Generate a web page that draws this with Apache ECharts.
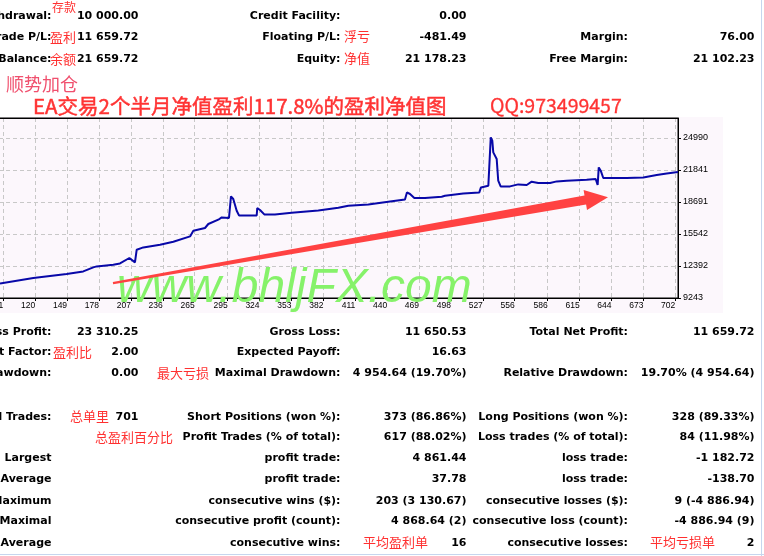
<!DOCTYPE html>
<html><head><meta charset="utf-8">
<script src="https://cdn.jsdelivr.net/npm/echarts@6.0.0/dist/echarts.min.js"></script>
<style>
html,body{margin:0;padding:0;background:#fff;}
#wrap{position:relative;width:764px;height:556px;overflow:hidden;background:#fff;}
#pink{position:absolute;left:0;top:117px;width:723px;height:196px;background:#fcf7fc;}
#c{position:absolute;left:0;top:0;width:764px;height:556px;}
</style>
</head><body>
<div id="wrap"><div id="pink"></div><div id="c"></div></div>
<script>
// ---- data ----
const tradeNo = [88.0,118.3,148.6,163.7,172.8,175.9,191.0,197.1,205.6,210.7,212.3,218.3,233.5,245.6,260.8,263.8,274.4,277.4,286.5,289.6,296.2,298.0,300.1,303.2,305.3,321.4,321.9,324.4,328.3,338.0,353.2,377.4,395.6,404.7,422.9,441.0,456.2,458.0,460.8,464.7,474.4,489.6,492.6,509.2,523.8,525.3,532.0,533.8,534.2,535.6,536.5,539.6,541.0,543.2,551.7,559.2,566.9,571.4,577.4,588.1,594.2,603.3,621.4,629.6,631.4,632.4,634.2,636.5,657.8,672.9,685.1,694.2,704.4];
const equity = [10680,11211,11605,11861,12255,12353,12520,12648,13180,12747,13997,14223,14489,14784,15306,15867,16132,16526,16949,17176,17117,19243,18987,17835,17372,17372,18101,17904,17471,17471,17638,17865,18130,18327,18455,18721,18947,19636,19479,19085,19085,19213,19311,19538,19636,20128,20296,20394,25049,24724,23573,22923,20788,20227,20227,20424,20364,20689,20561,20561,20719,20788,20886,20955,20364,22097,21772,21053,21053,21112,21349,21506,21644];
const xTickLabels = [91,120,149,178,207,236,265,295,324,353,382,411,440,469,498,527,556,586,615,644,673,702];
const yTickLabels = [9243,12392,15542,18691,21841,24990];

const accountRows = [
  ['Deposit/Withdrawal:', '10 000.00', 'Credit Facility:', '0.00', '', ''],
  ['Closed Trade P/L:', '11 659.72', 'Floating P/L:', '-481.49', 'Margin:', '76.00'],
  ['Balance:', '21 659.72', 'Equity:', '21 178.23', 'Free Margin:', '21 102.23']
];
const summaryRows = [
  ['Gross Profit:', '23 310.25', 'Gross Loss:', '11 650.53', 'Total Net Profit:', '11 659.72'],
  ['Profit Factor:', '2.00', 'Expected Payoff:', '16.63', '', ''],
  ['Absolute Drawdown:', '0.00', 'Maximal Drawdown:', '4 954.64 (19.70%)', 'Relative Drawdown:', '19.70% (4 954.64)'],
  ['Total Trades:', '701', 'Short Positions (won %):', '373 (86.86%)', 'Long Positions (won %):', '328 (89.33%)'],
  ['', '', 'Profit Trades (% of total):', '617 (88.02%)', 'Loss trades (% of total):', '84 (11.98%)'],
  ['Largest', '', 'profit trade:', '4 861.44', 'loss trade:', '-1 182.72'],
  ['Average', '', 'profit trade:', '37.78', 'loss trade:', '-138.70'],
  ['Maximum', '', 'consecutive wins ($):', '203 (3 130.67)', 'consecutive losses ($):', '9 (-4 886.94)'],
  ['Maximal', '', 'consecutive profit (count):', '4 868.64 (2)', 'consecutive loss (count):', '-4 886.94 (9)'],
  ['Average', '', 'consecutive wins:', '16', 'consecutive losses:', '2']
];
const cnNotes = ['存款','盈利','余额','浮亏','净值','盈利比','最大亏损','总单里','总盈利百分比','平均盈利单','平均亏损单'];
const subTitle = '顺势加仓';
const mainTitle = 'EA交易2个半月净值盈利117.8%的盈利净值图';
const qqText = 'QQ:973499457';
const watermark = 'www.bhljFX.com';

// ---- layout ----
const colRight = [51.5, 138.5, 340.5, 466.5, 628, 754.5];
const accountY = [16, 37.3, 58.7];
const summaryY = [331.7, 352.3, 373.3, 416.7, 437.3, 458.3, 479.3, 500.7, 521.3, 542.7];
const cnPos = [[52,7,12],[50,37.5,13],[50,58.7,13],[344,36.5,13],[344,58.5,13],[53,352,13],[157,373,13],[70,416.5,13],[95,437,13],[363,542.5,13],[650,542.5,13]];
const tableFont = 'bold 11px "DejaVu Sans"';

const els = [];
function txt(t, x, y, font, fill, align, z, stroke) {
  const st = {text:t, font:font, fill:fill, align:align, verticalAlign:'middle'};
  if (stroke) { st.stroke = fill; st.lineWidth = stroke; }
  els.push({type:'text', x:x, y:y, z:z||100, silent:true, style:st});
}
function table(rows, ys) {
  rows.forEach((r, i) => r.forEach((cell, j) => {
    if (cell) txt(cell, colRight[j], ys[i], tableFont, '#000', 'right');
  }));
}
table(accountRows, accountY);
table(summaryRows, summaryY);
cnNotes.forEach((t, i) => txt(t, cnPos[i][0], cnPos[i][1], cnPos[i][2] + 'px "Noto Sans CJK SC"', '#ff3030', 'left'));
txt(subTitle, 6, 84.5, '18px "Noto Sans CJK SC"', '#f0506e', 'left');
txt(mainTitle, 33, 106, '20.5px "Noto Sans CJK SC"', '#ff3333', 'left', 100, 0.5);
txt(qqText, 490, 106, '19.5px "Noto Sans CJK SC"', '#ff3333', 'left', 100, 0.3);
// watermark
els.push({type:'text', x:117, y:289, z:50, silent:true,
  style:{text:watermark, font:'italic 48px "Liberation Sans"', fill:'#86f26a', align:'left', verticalAlign:'middle'}});
// red arrow annotation
els.push({type:'polygon', z:60, silent:true,
  shape:{points:[[112.8,282],[584.5,195.6],[583.6,190.1],[608,197.3],[587,209.9],[586.1,204.4],[113.2,284.2]]},
  style:{fill:'#ff4242'}});
// plot top border and window frame lines
els.push({type:'line', z:100, silent:true, shape:{x1:0,y1:118.5,x2:678.5,y2:118.5}, style:{stroke:'#000', lineWidth:1}});
els.push({type:'line', z:100, silent:true, shape:{x1:678.5,y1:118,x2:678.5,y2:298}, style:{stroke:'#000', lineWidth:1}});
els.push({type:'line', z:100, silent:true, shape:{x1:761.5,y1:0,x2:761.5,y2:556}, style:{stroke:'#c6d6ee', lineWidth:1}});
els.push({type:'line', z:100, silent:true, shape:{x1:0,y1:554.5,x2:764,y2:554.5}, style:{stroke:'#c6d6ee', lineWidth:1}});

const chart = echarts.init(document.getElementById('c'), null, {renderer:'canvas'});
chart.setOption({
  animation:false,
  backgroundColor:'transparent',
  grid:{left:-1, right:86, top:118, height:180, show:true, containLabel:false, outerBoundsMode:'none',
    backgroundColor:'#fcf7fc', borderColor:'#000', borderWidth:1},
  xAxis:{type:'value', min:87.09, max:704.45,
    axisLine:{show:true, lineStyle:{color:'#000', width:1}},
    axisTick:{show:true, length:3, customValues:xTickLabels, lineStyle:{color:'#000'}},
    axisLabel:{customValues:xTickLabels, align:'right', margin:3, color:'#000', fontSize:8.5, fontFamily:'Liberation Sans',
      formatter:(v) => String(Math.round(v))},
    splitLine:{show:true, lineStyle:{color:'#c8c8c8', width:1, type:[4,3]}}
  },
  yAxis:{type:'value', position:'right', min:9243, max:26959,
    axisLine:{show:true, lineStyle:{color:'#000', width:1}},
    axisTick:{show:true, length:3, customValues:yTickLabels, lineStyle:{color:'#000'}},
    axisLabel:{customValues:yTickLabels, align:'left', margin:5, color:'#000', fontSize:9, fontFamily:'Liberation Sans', padding:[0,0,4,0],
      formatter:(v) => String(Math.round(v))},
    splitLine:{show:true, lineStyle:{color:'#c8c8c8', width:1, type:[4,3]}}
  },
  series:[{type:'line', data:tradeNo.map((t, i) => [t, equity[i]]), showSymbol:false,
    lineStyle:{color:'#0808a8', width:2}, clip:true, z:3}],
  graphic:{elements:els}
});
</script>
</body></html>
